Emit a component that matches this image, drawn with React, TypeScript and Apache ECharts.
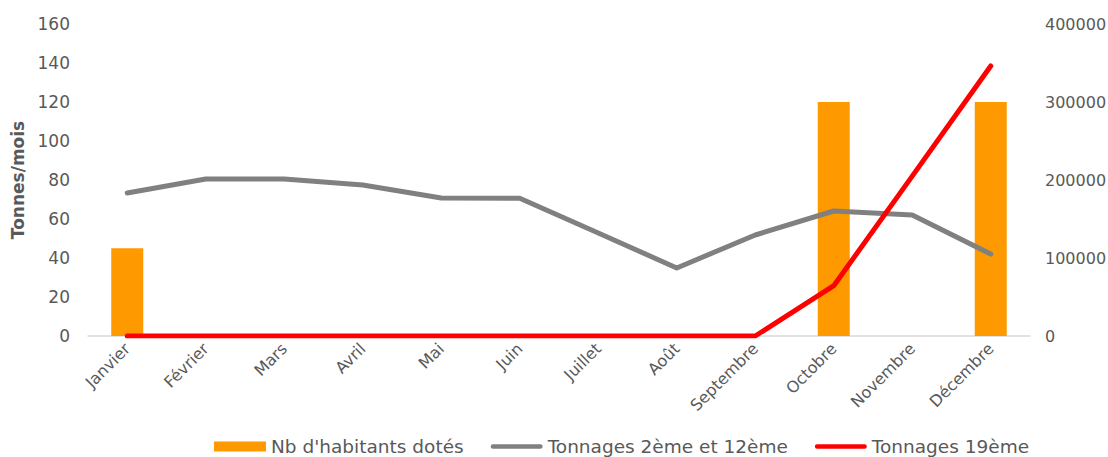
import React, { useEffect, useRef } from "react";
import * as echarts from "echarts";

const months = ["Janvier", "Février", "Mars", "Avril", "Mai", "Juin", "Juillet", "Août", "Septembre", "Octobre", "Novembre", "Décembre"];
const habitants = [112500, null, null, null, null, null, null, null, null, 300000, null, 300000];
const tonnages2et12 = [73.3, 80.5, 80.5, 77.4, 70.8, 70.6, 52.8, 34.9, 51.8, 64.1, 62, 42];
const tonnages19 = [0, 0, 0, 0, 0, 0, 0, 0, 0, 25.8, 82, 138.5];
const leftTicks = { min: 0, max: 160, interval: 20 };
const rightTicks = { min: 0, max: 400000, interval: 100000 };

const FONT = "'DejaVu Sans', Verdana, sans-serif";
const TXT = "#595959";

export default function App() {
  const ref = useRef<HTMLDivElement>(null);
  useEffect(() => {
    const chart = echarts.init(ref.current!, null, { renderer: "svg" });
    const lineIcon = "path://M2.5,0 H53.5 A2.5,2.5 0 0 1 53.5,5 H2.5 A2.5,2.5 0 0 1 2.5,0 Z";
    chart.setOption({
      animation: false,
      textStyle: { fontFamily: FONT },
      grid: { left: 88, right: 78, top: 24, bottom: 121, containLabel: false, outerBoundsMode: "none" },
      legend: {
        left: 214,
        top: 437,
        padding: 0,
        itemWidth: 52,
        itemHeight: 10,
        itemGap: 27,
        textStyle: { fontFamily: FONT, fontSize: 18.5, color: TXT },
        data: [
          { name: "Nb d'habitants dotés", icon: "rect" },
          { name: "Tonnages 2ème et 12ème", icon: lineIcon },
          { name: "Tonnages 19ème", icon: lineIcon },
        ],
      },
      xAxis: {
        type: "category",
        data: months,
        axisLine: { lineStyle: { color: "#d9d9d9", width: 1.5 } },
        axisTick: { show: false },
        axisLabel: { rotate: 45, fontSize: 16, color: TXT, fontFamily: FONT, margin: 10, interval: 0 },
      },
      yAxis: [
        {
          type: "value",
          ...leftTicks,
          name: "Tonnes/mois",
          nameLocation: "middle",
          nameRotate: 90,
          nameGap: 62,
          nameTextStyle: { fontSize: 17, fontWeight: "bold", color: TXT, fontFamily: FONT },
          axisLine: { show: false },
          axisTick: { show: false },
          splitLine: { show: false },
          axisLabel: { fontSize: 17, color: TXT, fontFamily: FONT, margin: 18 },
        },
        {
          type: "value",
          ...rightTicks,
          position: "right",
          axisLine: { show: false },
          axisTick: { show: false },
          splitLine: { show: false },
          axisLabel: { fontSize: 16, color: TXT, fontFamily: FONT, margin: 15, formatter: (v: number) => String(v) },
        },
      ],
      series: [
        {
          name: "Nb d'habitants dotés",
          type: "bar",
          yAxisIndex: 1,
          data: habitants,
          barWidth: 32,
          itemStyle: { color: "#FF9900" },
        },
        {
          name: "Tonnages 2ème et 12ème",
          type: "line",
          yAxisIndex: 0,
          data: tonnages2et12,
          symbol: "none",
          lineStyle: { color: "#808080", width: 5, cap: "round", join: "round" },
          itemStyle: { color: "#808080" },
        },
        {
          name: "Tonnages 19ème",
          type: "line",
          yAxisIndex: 0,
          data: tonnages19,
          symbol: "none",
          lineStyle: { color: "#FF0000", width: 5, cap: "round", join: "round" },
          itemStyle: { color: "#FF0000" },
        },
      ],
    });
    return () => chart.dispose();
  }, []);
  return <div ref={ref} style={{ position: "absolute", left: 0, top: 0, width: 1108, height: 457 }} />;
}
